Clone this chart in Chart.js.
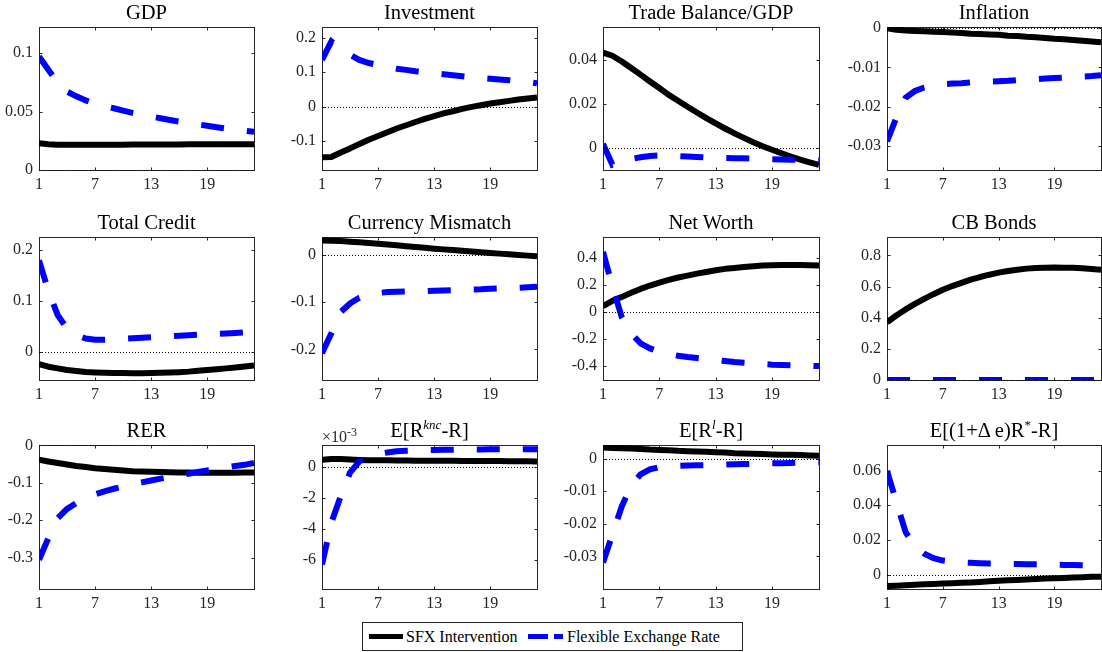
<!DOCTYPE html>
<html>
<head>
<meta charset="utf-8">
<title>Impulse responses</title>
<script src="https://cdn.jsdelivr.net/npm/chart.js@4.4.1/dist/chart.umd.min.js"></script>
<style>
  html, body { margin: 0; padding: 0; background: #fff; overflow: hidden; }
  body { width: 1102px; height: 652px; position: relative;
         font-family: "Liberation Serif", serif; }
  canvas { position: absolute; }
  .ttl { position: absolute; font-family: "Liberation Serif", serif; font-size: 20.5px; line-height: 20px;
         color: #000; text-align: center; white-space: nowrap; }
  .ttl sup { font-size: 13px; line-height: 0; vertical-align: 8px; }
  .expo { position: absolute; font-family: "Liberation Serif", serif; font-size: 16px; line-height: 16px;
          color: #262626; white-space: nowrap; }
  .expo sup { font-size: 12px; line-height: 0; vertical-align: 6px; }
  #legend { position: absolute; left: 362px; top: 622px; width: 379px; height: 27px;
            border: 1px solid #262626; background: #fff; }
  #legend span { position: absolute; top: 4px; font-family: "Liberation Serif", serif; font-size: 16px;
                 line-height: 19px; color: #000; white-space: nowrap; }
  #legend svg { position: absolute; top: 0; }
</style>
</head>
<body>
<div id="legend"></div>
<script>
// Horizon (quarters) and x-axis ticks shared by every panel
const periods = [1, 2, 3, 4, 5, 6, 7, 8, 9, 10, 11, 12, 13, 14, 15, 16, 17, 18, 19, 20, 21, 22, 23, 24];
const xTicks = [1, 7, 13, 19];
const seriesNames = ['SFX Intervention', 'Flexible Exchange Rate'];

// Panel titles
const titles = [
  'GDP', 'Investment', 'Trade Balance/GDP', 'Inflation',
  'Total Credit', 'Currency Mismatch', 'Net Worth', 'CB Bonds',
  'RER', 'E[R<sup><i>knc</i></sup>-R]', 'E[R<sup><i>l</i></sup>-R]', 'E[(1+&Delta; e)R<sup>*</sup>-R]'
];

// Responses under SFX intervention (solid) and a flexible exchange rate (dashed)
const gdpSfx = [0.0230, 0.0220, 0.0216, 0.0215, 0.0215, 0.0215, 0.0216, 0.0216, 0.0217, 0.0217, 0.0218, 0.0218, 0.0218, 0.0219, 0.0219, 0.0219, 0.0220, 0.0220, 0.0220, 0.0220, 0.0221, 0.0221, 0.0221, 0.0221];
const gdpFlex = [0.0971, 0.0857, 0.0750, 0.0670, 0.0630, 0.0595, 0.0565, 0.0545, 0.0528, 0.0508, 0.0488, 0.0472, 0.0457, 0.0443, 0.0428, 0.0414, 0.0402, 0.0390, 0.0378, 0.0366, 0.0355, 0.0345, 0.0336, 0.0327];

const invSfx = [-0.148, -0.147, -0.134, -0.122, -0.109, -0.097, -0.086, -0.075, -0.064, -0.0545, -0.045, -0.036, -0.028, -0.020, -0.0136, -0.0068, -0.001, 0.004, 0.0088, 0.0127, 0.0166, 0.0204, 0.0234, 0.0263];
const invFlex = [0.136, 0.190, 0.168, 0.151, 0.136, 0.127, 0.121, 0.115, 0.110, 0.107, 0.103, 0.100, 0.097, 0.0945, 0.0915, 0.0886, 0.0857, 0.083, 0.081, 0.079, 0.077, 0.074, 0.072, 0.068];

const tbSfx = [0.0433, 0.0418, 0.0392, 0.0362, 0.0332, 0.0301, 0.0271, 0.0240, 0.0213, 0.0186, 0.0160, 0.0134, 0.0110, 0.0087, 0.0065, 0.0044, 0.0024, 0.0006, -0.0010, -0.0026, -0.0041, -0.0055, -0.0067, -0.0079];
const tbFlex = [0.0017, -0.0078, -0.0062, -0.0052, -0.0044, -0.0038, -0.0036, -0.0037, -0.0039, -0.0041, -0.0043, -0.0045, -0.0046, -0.0047, -0.0048, -0.0049, -0.0050, -0.0051, -0.0053, -0.0054, -0.0055, -0.0056, -0.0057, -0.0058];

const inflSfx = [0.0000, -0.0004, -0.0006, -0.0007, -0.0008, -0.0009, -0.0010, -0.0011, -0.0012, -0.0014, -0.0015, -0.0016, -0.0017, -0.0019, -0.0020, -0.0022, -0.0023, -0.0025, -0.0027, -0.0028, -0.0030, -0.0032, -0.0034, -0.0036];
const inflFlex = [-0.0288, -0.0228, -0.0177, -0.0160, -0.0151, -0.0145, -0.0143, -0.0141, -0.0140, -0.0138, -0.0137, -0.0136, -0.0135, -0.0134, -0.0132, -0.0131, -0.0130, -0.0128, -0.0127, -0.0126, -0.0124, -0.0123, -0.0122, -0.0120];

const creditSfx = [-0.0243, -0.0295, -0.0328, -0.0360, -0.0380, -0.0398, -0.0407, -0.0414, -0.0419, -0.0421, -0.0422, -0.0422, -0.0420, -0.0415, -0.0410, -0.0402, -0.0392, -0.0377, -0.0362, -0.0346, -0.0328, -0.0310, -0.0290, -0.0270];
const creditFlex = [0.180, 0.120, 0.072, 0.046, 0.033, 0.026, 0.0236, 0.0236, 0.0245, 0.0255, 0.0265, 0.0275, 0.0285, 0.0295, 0.0305, 0.0315, 0.0325, 0.0333, 0.0340, 0.0350, 0.0360, 0.0370, 0.0380, 0.0390];

const mismatchSfx = [0.0300, 0.0295, 0.0288, 0.0274, 0.0260, 0.0245, 0.0230, 0.0213, 0.0196, 0.0178, 0.0161, 0.0144, 0.0126, 0.0111, 0.0096, 0.0080, 0.0065, 0.0050, 0.0035, 0.0021, 0.0007, -0.0007, -0.0021, -0.0035];
const mismatchFlex = [-0.208, -0.166, -0.121, -0.103, -0.091, -0.084, -0.081, -0.079, -0.0785, -0.078, -0.0775, -0.077, -0.076, -0.0755, -0.075, -0.074, -0.0735, -0.073, -0.072, -0.0715, -0.071, -0.070, -0.069, -0.068];

const worthSfx = [0.042, 0.081, 0.110, 0.140, 0.169, 0.194, 0.216, 0.236, 0.253, 0.267, 0.282, 0.294, 0.307, 0.317, 0.324, 0.331, 0.336, 0.341, 0.344, 0.346, 0.346, 0.346, 0.344, 0.341];
const worthFlex = [0.442, 0.190, -0.040, -0.160, -0.233, -0.270, -0.294, -0.312, -0.324, -0.334, -0.341, -0.348, -0.356, -0.363, -0.370, -0.375, -0.380, -0.385, -0.390, -0.393, -0.395, -0.397, -0.398, -0.400];

const cbSfx = [0.371, 0.414, 0.453, 0.489, 0.521, 0.551, 0.579, 0.603, 0.624, 0.644, 0.661, 0.676, 0.689, 0.700, 0.708, 0.715, 0.719, 0.721, 0.722, 0.721, 0.720, 0.717, 0.712, 0.708];
const cbFlex = [0, 0, 0, 0, 0, 0, 0, 0, 0, 0, 0, 0, 0, 0, 0, 0, 0, 0, 0, 0, 0, 0, 0, 0];

const rerSfx = [-0.038, -0.043, -0.047, -0.051, -0.055, -0.058, -0.061, -0.063, -0.065, -0.067, -0.069, -0.070, -0.0705, -0.0714, -0.072, -0.0724, -0.0728, -0.073, -0.073, -0.073, -0.073, -0.073, -0.0728, -0.0725];
const rerFlex = [-0.306, -0.248, -0.195, -0.170, -0.154, -0.141, -0.131, -0.123, -0.116, -0.110, -0.104, -0.099, -0.094, -0.089, -0.085, -0.080, -0.076, -0.071, -0.067, -0.063, -0.059, -0.055, -0.052, -0.047];

const kncSfx = [0.00045, 0.00050, 0.00050, 0.00047, 0.00045, 0.00043, 0.00042, 0.00042, 0.00041, 0.00041, 0.00040, 0.00040, 0.00040, 0.00039, 0.00039, 0.00038, 0.00038, 0.00038, 0.00037, 0.00037, 0.00036, 0.00036, 0.00036, 0.00035];
const kncFlex = [-0.0063, -0.0036, -0.0019, -0.00037, 0.00035, 0.00065, 0.00083, 0.00093, 0.00100, 0.00104, 0.00106, 0.00108, 0.00109, 0.00110, 0.00110, 0.00111, 0.00112, 0.00112, 0.00113, 0.00113, 0.00113, 0.00113, 0.00113, 0.00113];

const loanSfx = [0.0034, 0.0033, 0.0032, 0.0031, 0.0030, 0.0028, 0.0027, 0.0026, 0.0024, 0.0023, 0.0022, 0.0021, 0.0020, 0.0019, 0.0017, 0.0016, 0.0015, 0.0014, 0.0013, 0.0012, 0.0012, 0.0011, 0.0010, 0.0009];
const loanFlex = [-0.0319, -0.0233, -0.0146, -0.0084, -0.0048, -0.0033, -0.0026, -0.0023, -0.0022, -0.0021, -0.0020, -0.0020, -0.0019, -0.0018, -0.0017, -0.0016, -0.0016, -0.0015, -0.0014, -0.0014, -0.0013, -0.0012, -0.0012, -0.0011];

const uipSfx = [-0.0066, -0.0064, -0.0061, -0.0059, -0.0056, -0.0054, -0.0052, -0.0050, -0.0047, -0.0045, -0.0042, -0.0039, -0.0036, -0.0033, -0.0031, -0.0028, -0.0025, -0.0023, -0.0021, -0.0019, -0.0017, -0.0015, -0.0013, -0.0012];
const uipFlex = [0.0598, 0.0420, 0.0245, 0.0160, 0.0120, 0.0095, 0.0081, 0.0074, 0.0070, 0.0068, 0.0066, 0.0064, 0.0063, 0.0062, 0.0061, 0.0060, 0.0059, 0.0058, 0.0057, 0.0056, 0.0055, 0.0054, 0.0053, 0.0052];

// y-axis limits, tick values and tick labels per panel
const yLimits = [
  [0, 0.1223], [-0.185, 0.232], [-0.0102, 0.0549], [-0.0361, 0.0003],
  [-0.0557, 0.226], [-0.2646, 0.0372], [-0.503, 0.552], [0, 0.918],
  [-0.384, 0.001], [-0.00788, 0.00141], [-0.0400, 0.0042], [-0.0083, 0.0747]
];
const yTickValues = [
  [0, 0.05, 0.1], [-0.1, 0, 0.1, 0.2], [0, 0.02, 0.04], [-0.03, -0.02, -0.01, 0],
  [0, 0.1, 0.2], [-0.2, -0.1, 0], [-0.4, -0.2, 0, 0.2, 0.4], [0, 0.2, 0.4, 0.6, 0.8],
  [-0.3, -0.2, -0.1, 0], [-0.006, -0.004, -0.002, 0], [-0.03, -0.02, -0.01, 0], [0, 0.02, 0.04, 0.06]
];
const yTickLabels = [
  ['0', '0.05', '0.1'], ['-0.1', '0', '0.1', '0.2'], ['0', '0.02', '0.04'], ['-0.03', '-0.02', '-0.01', '0'],
  ['0', '0.1', '0.2'], ['-0.2', '-0.1', '0'], ['-0.4', '-0.2', '0', '0.2', '0.4'], ['0', '0.2', '0.4', '0.6', '0.8'],
  ['-0.3', '-0.2', '-0.1', '0'], ['-6', '-4', '-2', '0'], ['-0.03', '-0.02', '-0.01', '0'], ['0', '0.02', '0.04', '0.06']
];

const sfxSeries = [gdpSfx, invSfx, tbSfx, inflSfx, creditSfx, mismatchSfx, worthSfx, cbSfx, rerSfx, kncSfx, loanSfx, uipSfx];
const flexSeries = [gdpFlex, invFlex, tbFlex, inflFlex, creditFlex, mismatchFlex, worthFlex, cbFlex, rerFlex, kncFlex, loanFlex, uipFlex];

// ---- grid geometry (pixels) ----
const colLeft = [39, 322, 603, 887];
const colWidth = [215, 215, 216, 214];
const rowTop = [27, 237, 445];
const rowHeight = [143, 143, 144];
const AX_W = 52;   // room for y tick labels
const AX_H = 28;   // room for x tick labels
const PAD_T = 10;
const PAD_R = 4;
const AXIS_COLOR = '#262626';
const FONT = '"Liberation Serif", serif';

// Box around the axes with inward tick marks on all four sides, plus the dotted zero line
const axesBox = {
  id: 'axesBox',
  beforeDatasetsDraw(chart) {
    const { ctx, chartArea: a } = chart;
    const xs = chart.scales.x, ys = chart.scales.y;
    const tl = 3;
    ctx.save();
    ctx.strokeStyle = AXIS_COLOR;
    ctx.lineWidth = 1;
    ctx.strokeRect(a.left + 0.5, a.top + 0.5, a.right - a.left, a.bottom - a.top);
    ctx.beginPath();
    xs.ticks.forEach(t => {
      const px = Math.round(xs.getPixelForValue(t.value)) + 0.5;
      ctx.moveTo(px, a.bottom + 0.5); ctx.lineTo(px, a.bottom + 0.5 - tl);
      ctx.moveTo(px, a.top + 0.5); ctx.lineTo(px, a.top + 0.5 + tl);
    });
    ys.ticks.forEach(t => {
      const py = Math.round(ys.getPixelForValue(t.value)) + 0.5;
      ctx.moveTo(a.left + 0.5, py); ctx.lineTo(a.left + 0.5 + tl, py);
      ctx.moveTo(a.right + 0.5, py); ctx.lineTo(a.right + 0.5 - tl, py);
    });
    ctx.stroke();
    ctx.restore();
  },
  afterDatasetsDraw(chart) {
    const { ctx, chartArea: a } = chart;
    const ys = chart.scales.y;
    if (ys.min > 0 || ys.max < 0) return;
    const py = Math.round(ys.getPixelForValue(0)) + 0.5;
    ctx.save();
    ctx.strokeStyle = '#000';
    ctx.lineWidth = 1;
    ctx.setLineDash([1, 2]);
    ctx.beginPath();
    ctx.moveTo(a.left, py);
    ctx.lineTo(a.right + 1, py);
    ctx.stroke();
    ctx.restore();
  }
};

const toPoints = vals => vals.map((v, i) => ({ x: periods[i], y: v }));

for (let p = 0; p < 12; p++) {
  const r = Math.floor(p / 4), c = p % 4;
  const L = colLeft[c], T = rowTop[r], W = colWidth[c], H = rowHeight[r];

  const cv = document.createElement('canvas');
  cv.width = AX_W + W + PAD_R;
  cv.height = PAD_T + H + AX_H;
  cv.style.left = (L - AX_W) + 'px';
  cv.style.top = (T - PAD_T) + 'px';
  document.body.appendChild(cv);

  const ttl = document.createElement('div');
  ttl.className = 'ttl';
  ttl.style.left = L + 'px';
  ttl.style.width = W + 'px';
  ttl.style.top = (T - 25) + 'px';
  ttl.innerHTML = titles[p];
  document.body.appendChild(ttl);

  const tickVals = yTickValues[p], tickLabs = yTickLabels[p];

  new Chart(cv, {
    type: 'line',
    data: {
      datasets: [
        {
          label: seriesNames[1], data: toPoints(flexSeries[p]),
          borderColor: '#0000ff', borderWidth: 6, borderDash: [23, 23], borderCapStyle: 'butt',
          pointRadius: 0, tension: 0, fill: false, order: 1
        },
        {
          label: seriesNames[0], data: toPoints(sfxSeries[p]),
          borderColor: '#000000', borderWidth: 6, borderJoinStyle: 'round',
          pointRadius: 0, tension: 0, fill: false, order: 2
        }
      ]
    },
    options: {
      responsive: false, animation: false, devicePixelRatio: 1, events: [],
      layout: { padding: { top: PAD_T, right: PAD_R, left: 0, bottom: 0 } },
      plugins: { legend: { display: false }, tooltip: { enabled: false }, title: { display: false } },
      scales: {
        x: {
          type: 'linear', min: 1, max: 24,
          grid: { display: false, drawTicks: false }, border: { display: false },
          afterBuildTicks: s => { s.ticks = xTicks.map(v => ({ value: v })); },
          ticks: { autoSkip: false, maxRotation: 0, minRotation: 0, padding: 5, color: AXIS_COLOR,
                   font: { family: FONT, size: 16 }, callback: (v, i) => String(xTicks[i]) },
          afterFit: s => { s.height = AX_H; s.paddingLeft = 0; s.paddingRight = 0; }
        },
        y: {
          type: 'linear', min: yLimits[p][0], max: yLimits[p][1],
          grid: { display: false, drawTicks: false }, border: { display: false },
          afterBuildTicks: s => { s.ticks = tickVals.map(v => ({ value: v })); },
          ticks: { autoSkip: false, padding: 6, color: AXIS_COLOR,
                   font: { family: FONT, size: 16 }, callback: (v, i) => tickLabs[i] },
          afterFit: s => { s.width = AX_W; s.paddingTop = 0; s.paddingBottom = 0; }
        }
      }
    },
    plugins: [axesBox]
  });
}

// Exponent label for the E[R^knc - R] panel
const expo = document.createElement('div');
expo.className = 'expo';
expo.style.left = colLeft[1] + 'px';
expo.style.top = (rowTop[2] - 16) + 'px';
expo.innerHTML = '&times;10<sup>-3</sup>';
document.body.appendChild(expo);

// Shared legend
const legend = document.getElementById('legend');
legend.innerHTML =
  '<svg width="40" height="27" style="left:5px"><line x1="1" y1="13.5" x2="35" y2="13.5" stroke="#000" stroke-width="5"/></svg>' +
  '<span style="left:43px">' + seriesNames[0] + '</span>' +
  '<svg width="40" height="27" style="left:164px"><line x1="1" y1="13.5" x2="36" y2="13.5" stroke="#0000ff" stroke-width="5" stroke-dasharray="20 6"/></svg>' +
  '<span style="left:204px">' + seriesNames[1] + '</span>';
</script>
</body>
</html>
